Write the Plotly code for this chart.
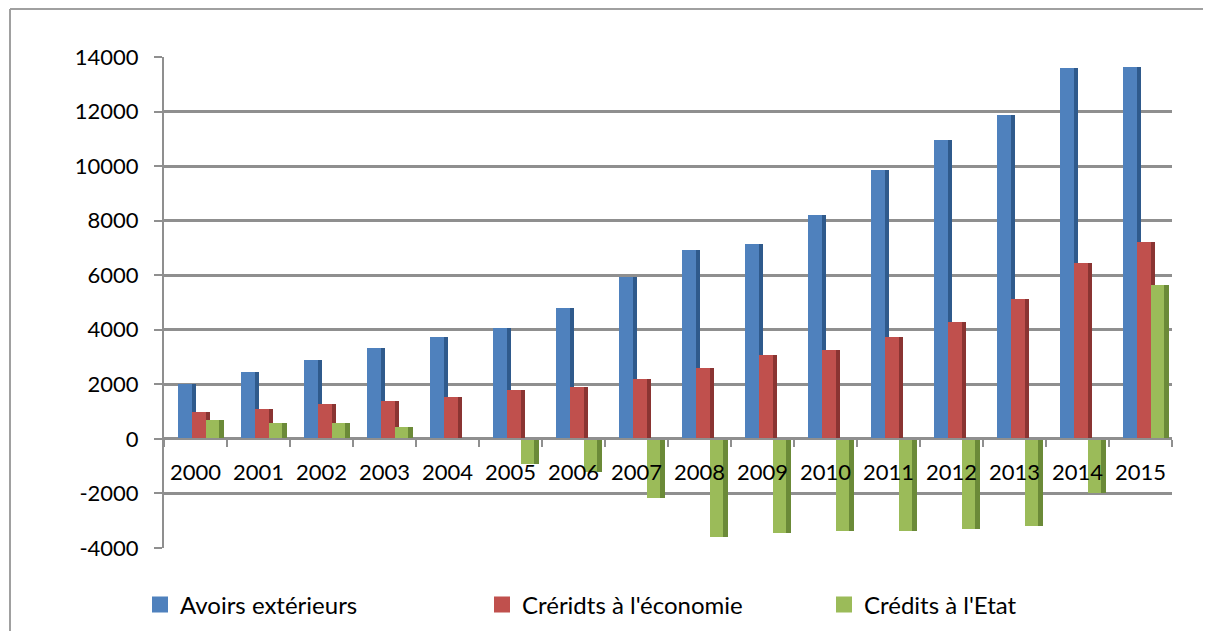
import plotly.graph_objects as go

years = ["2000", "2001", "2002", "2003", "2004", "2005", "2006", "2007",
         "2008", "2009", "2010", "2011", "2012", "2013", "2014", "2015"]
avoirs = [2030, 2460, 2890, 3330, 3720, 4060, 4790, 5930,
          6910, 7130, 8220, 9860, 10940, 11860, 13580, 13620]
credits_eco = [990, 1080, 1270, 1380, 1540, 1780, 1900, 2210,
               2610, 3070, 3270, 3720, 4280, 5120, 6450, 7220]
credits_etat = [690, 580, 580, 420, -30, -910, -1230, -2180,
                -3600, -3450, -3370, -3390, -3310, -3210, -2000, 5640]
series_names = ["Avoirs extérieurs", "Créridts à l'économie", "Crédits à l'Etat"]
y_ticks = [-4000, -2000, 0, 2000, 4000, 6000, 8000, 10000, 12000, 14000]
y_tick_labels = ["-4000", "-2000", "0", "2000", "4000", "6000", "8000",
                 "10000", "12000", "14000"]

front_colors = ["#4F81BD", "#C0504D", "#9BBB59"]
side_colors = ["#2F5A8C", "#8A3432", "#6B8A38"]
offsets = [-0.28, -0.06, 0.16]
bw = 0.22

fig = go.Figure()
for name, vals, fc, sc, off in zip(series_names, [avoirs, credits_eco, credits_etat],
                                   front_colors, side_colors, offsets):
    fig.add_trace(go.Bar(x=years, y=vals, offset=off + 0.075, width=bw,
                         marker=dict(color=sc, line=dict(width=0)),
                         showlegend=False, hoverinfo="skip"))
    fig.add_trace(go.Bar(x=years, y=vals, offset=off, width=bw, name=name,
                         marker=dict(color=fc, line=dict(width=0)),
                         showlegend=False))

# legend entries (square swatches like the original)
for name, fc in zip(series_names, front_colors):
    fig.add_trace(go.Scatter(x=[None], y=[None], mode="markers", name=name,
                             marker=dict(symbol="square", size=16, color=fc)))

font = "Lato, 'Open Sans', sans-serif"
S = 8  # default page body margin offset
W, H = 1211 - 2 * S, 639 - 2 * S
L, T = 164 - S, 57 - S
R = W - (1172 - S)
B = H - (548 - S)
pw, ph = W - L - R, H - T - B


def px_x(page_x):
    return (page_x - S - L) / pw


def px_y(page_y):
    return (H - B - (page_y - S)) / ph


grid = "#8F8F8F"
fig.update_layout(
    width=W, height=H,
    margin=dict(l=L, r=R, t=T, b=B, autoexpand=False),
    barmode="overlay",
    paper_bgcolor="white", plot_bgcolor="white",
    font=dict(family=font, size=22, color="black"),
    legend=dict(orientation="h", x=px_x(140), xanchor="left",
                y=px_y(605), yanchor="middle", entrywidth=297,
                font=dict(size=24), itemwidth=30, traceorder="normal",
                tracegroupgap=0, bgcolor="rgba(0,0,0,0)"),
    xaxis=dict(type="category", range=[-0.5, 15.5], anchor="free",
               position=4000 / 18000, showline=True, linecolor=grid,
               linewidth=2, ticks="outside", tickson="boundaries", ticklen=7,
               tickcolor=grid, tickwidth=2, ticklabelstandoff=14,
               showgrid=False, tickfont=dict(size=22)),
    yaxis=dict(range=[-4000, 14000], tickvals=y_ticks, ticktext=y_tick_labels,
               showline=True, linecolor=grid, linewidth=2,
               ticks="outside", ticklen=8, tickcolor=grid, tickwidth=2,
               showgrid=True, gridcolor=grid, gridwidth=2.5,
               zeroline=True, zerolinecolor=grid, zerolinewidth=2.5,
               ticklabelstandoff=11, tickfont=dict(size=22)),
    bargap=0,
)

# outer chart frame: only top and left edges fall inside the picture
frame = dict(color="#A0A0A0", width=2)
fig.add_shape(type="line", xref="paper", yref="paper",
              x0=px_x(10), x1=px_x(1240), y0=px_y(9), y1=px_y(9),
              line=frame, layer="below")
fig.add_shape(type="line", xref="paper", yref="paper",
              x0=px_x(10), x1=px_x(10), y0=px_y(9), y1=px_y(680),
              line=frame, layer="below")

fig.write_html("out.html")
